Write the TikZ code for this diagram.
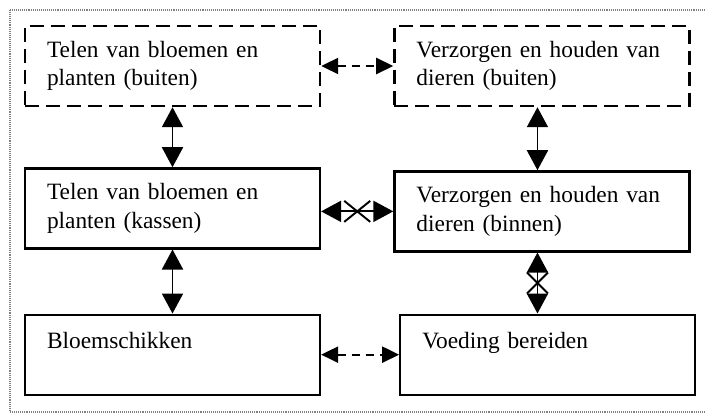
\documentclass[tikz,border=0pt]{standalone}
\usepackage{fontspec}
\setmainfont{Liberation Serif}
\usetikzlibrary{positioning,arrows.meta}

\begin{document}
\begin{tikzpicture}[>={Triangle[length=0.4cm,width=0.42cm]}, line width=1.1pt,
  box/.style={draw, line width=1.3pt, minimum width=5.9cm, minimum height=1.6cm, text width=5.02cm, inner xsep=0.44cm, align=left, font=\fontsize{13.3}{16}\selectfont},
  dashbox/.style={box, line width=1.4pt, dash pattern=on 0.28cm off 0.14cm},
  small/.style={>={Triangle[length=0.34cm,width=0.32cm]}, line width=1.3pt, dash pattern=on 0.16cm off 0.12cm}]
\useasboundingbox (0,0) rectangle (14.12,-8.26);
% dotted frame
\draw[gray, line width=0.8pt, dash pattern=on 0.5pt off 0.6pt] (0.2,-0.2) rectangle (14.4,-8.24);
\node[dashbox] (tbuiten) at (3.45,-1.32) {Telen van bloemen en\\ planten (buiten)};
\node[dashbox, right=1.44cm of tbuiten] (vbuiten) {Verzorgen en houden van\\ dieren (buiten)};
\node[box, below=1.2cm of tbuiten] (tkassen) {Telen van bloemen en\\ planten (kassen)};
\node[box, below=1.26cm of vbuiten] (vbinnen) {Verzorgen en houden van\\ dieren (binnen)};
\node[box, below=1.28cm of tkassen] (bloem) {Bloemschikken\\ \mbox{}};
\node[box, right=1.56cm of bloem] (voeding) {Voeding bereiden\\ \mbox{}};
% horizontal links
\draw[<->, small] (tbuiten) -- (vbuiten);
\draw[<->] (tkassen.east |- vbinnen.west) -- coordinate (kx) (vbinnen.west);
\draw ([shift={(-0.26,0.21)}]kx) -- ([shift={(0.26,-0.21)}]kx);
\draw ([shift={(-0.26,-0.21)}]kx) -- ([shift={(0.26,0.21)}]kx);
\draw[<->, small] (bloem) -- (voeding);
% vertical links
\draw[<->] (tbuiten) -- (tkassen);
\draw[<->] (tkassen) -- (bloem);
\draw[<->] ([xshift=-0.09cm]vbuiten.south) -- ([xshift=-0.09cm]vbinnen.north);
\draw[<->] ([xshift=-0.09cm]vbinnen.south) -- coordinate (ky) ([xshift=-0.09cm]vbinnen.south |- voeding.north);
\draw ([shift={(-0.21,0.21)}]ky) -- ([shift={(0.21,-0.21)}]ky);
\draw ([shift={(-0.21,-0.21)}]ky) -- ([shift={(0.21,0.21)}]ky);
\end{tikzpicture}
\end{document}
